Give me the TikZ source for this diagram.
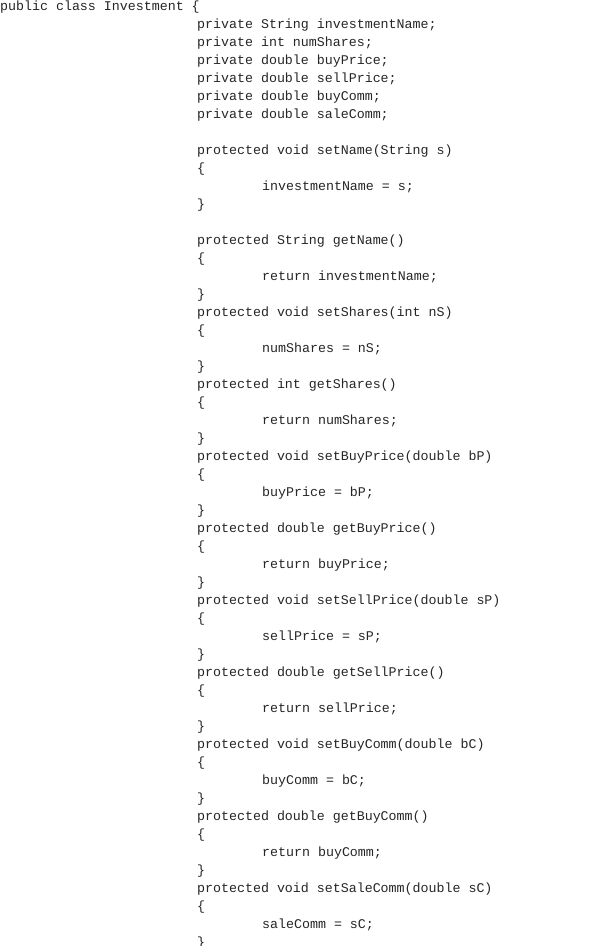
\documentclass[tikz,border=0pt]{standalone}
\usepackage{fontspec}
\setmonofont{Liberation Mono}
\begin{document}
\begin{tikzpicture}[x=1pt,y=1pt,code/.style={anchor=base west,inner sep=0pt,font=\ttfamily\fontsize{13.3}{14}\selectfont,text=black!85}]
\useasboundingbox[fill=white] (0,0) rectangle (613,-946);
\newcommand\CL[3]{\node[code] (l#1) at (#2,{-(10.5+18*#1)}) {#3};}
\CL{0}{0}{public class Investment \{}
\CL{1}{197}{private String investmentName;}
\CL{2}{197}{private int numShares;}
\CL{3}{197}{private double buyPrice;}
\CL{4}{197}{private double sellPrice;}
\CL{5}{197}{private double buyComm;}
\CL{6}{197}{private double saleComm;}
\CL{8}{197}{protected void setName(String s)}
\CL{9}{197}{\{}
\CL{10}{262}{investmentName = s;}
\CL{11}{197}{\}}
\CL{13}{197}{protected String getName()}
\CL{14}{197}{\{}
\CL{15}{262}{return investmentName;}
\CL{16}{197}{\}}
\CL{17}{197}{protected void setShares(int nS)}
\CL{18}{197}{\{}
\CL{19}{262}{numShares = nS;}
\CL{20}{197}{\}}
\CL{21}{197}{protected int getShares()}
\CL{22}{197}{\{}
\CL{23}{262}{return numShares;}
\CL{24}{197}{\}}
\CL{25}{197}{protected void setBuyPrice(double bP)}
\CL{26}{197}{\{}
\CL{27}{262}{buyPrice = bP;}
\CL{28}{197}{\}}
\CL{29}{197}{protected double getBuyPrice()}
\CL{30}{197}{\{}
\CL{31}{262}{return buyPrice;}
\CL{32}{197}{\}}
\CL{33}{197}{protected void setSellPrice(double sP)}
\CL{34}{197}{\{}
\CL{35}{262}{sellPrice = sP;}
\CL{36}{197}{\}}
\CL{37}{197}{protected double getSellPrice()}
\CL{38}{197}{\{}
\CL{39}{262}{return sellPrice;}
\CL{40}{197}{\}}
\CL{41}{197}{protected void setBuyComm(double bC)}
\CL{42}{197}{\{}
\CL{43}{262}{buyComm = bC;}
\CL{44}{197}{\}}
\CL{45}{197}{protected double getBuyComm()}
\CL{46}{197}{\{}
\CL{47}{262}{return buyComm;}
\CL{48}{197}{\}}
\CL{49}{197}{protected void setSaleComm(double sC)}
\CL{50}{197}{\{}
\CL{51}{262}{saleComm = sC;}
\CL{52}{197}{\}}
\end{tikzpicture}
\end{document}
